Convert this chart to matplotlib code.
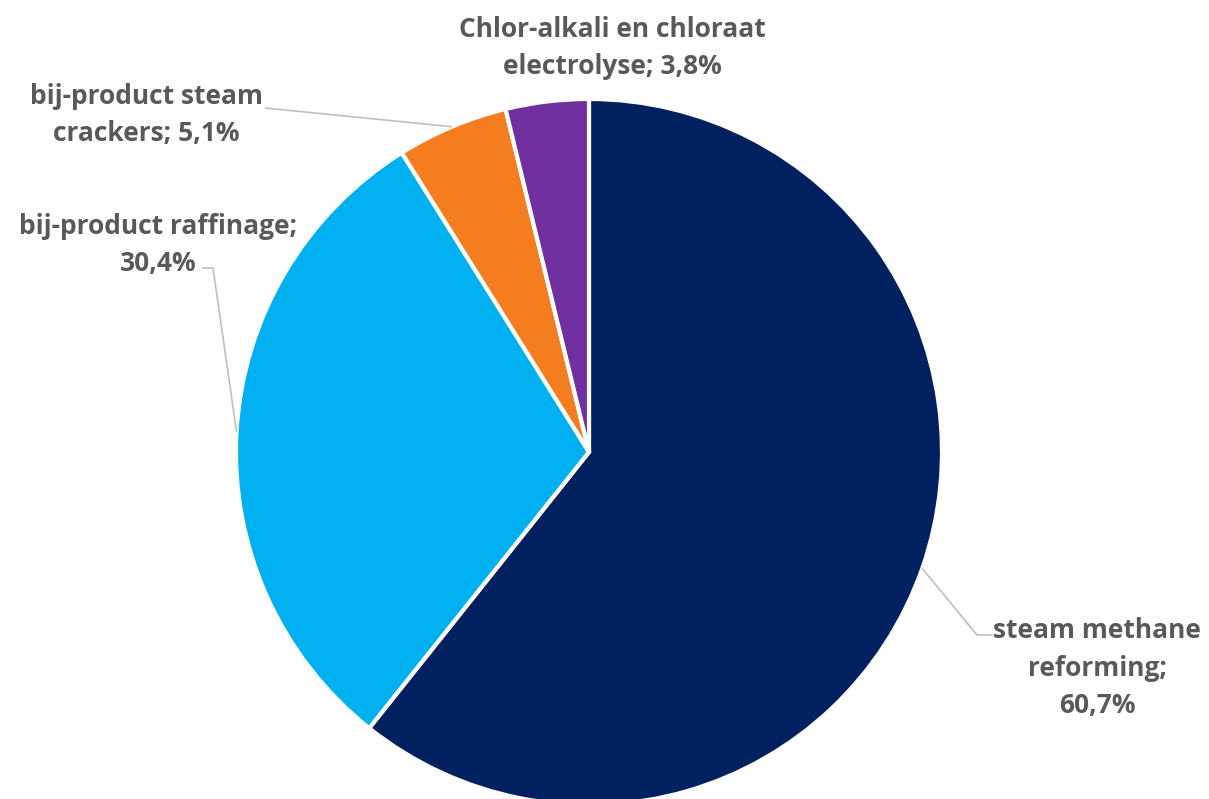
import numpy as np
import matplotlib
matplotlib.use('Agg')
import matplotlib.pyplot as plt

# data
labels = ['steam methane\nreforming;\n60,7%',
          'bij-product raffinage;\n30,4%',
          'bij-product steam\ncrackers; 5,1%',
          'Chlor-alkali en chloraat\nelectrolyse; 3,8%']
shares = [60.7, 30.4, 5.1, 3.8]
colors = ['#002060', '#00B0F0', '#F47D20', '#7030A0']

W, H = 1209, 799
fig = plt.figure(figsize=(W / 100, H / 100), dpi=100)
ax = fig.add_axes([0, 0, 1, 1])

cx, cy, r = 589, H - 452, 353
ax.pie(shares, colors=colors, startangle=90, counterclock=False,
       center=(cx, cy), radius=r, frame=True,
       wedgeprops=dict(edgecolor='white', linewidth=3))
ax.set_xlim(0, W)
ax.set_ylim(0, H)
ax.axis('off')

# mid angles of each slice (degrees)
total = sum(shares)
ends = 90 - 360 * np.cumsum(shares) / total
starts = np.concatenate([[90], ends[:-1]])
mids = (starts + ends) / 2

txt = dict(fontsize=19, fontweight='bold', color='#595959',
           family=['Open Sans', 'DejaVu Sans'], ha='center', va='center',
           linespacing=1.52)

# label centres (layout) and leader bends
label_pos = [(1097, H - 668), (146, H - 115), (146, H - 115), (612, H - 48)]
label_pos[1] = (158, H - 245)
leaders = [[(993, H - 635), (977, H - 635)],
           [(202, H - 268), (213, H - 268)],
           [(265, H - 108)],
           None]

for i, lab in enumerate(labels):
    ax.text(*label_pos[i], lab, **txt)
    if leaders[i] is not None:
        a = np.radians(mids[i])
        edge = (cx + r * np.cos(a), cy + r * np.sin(a))
        pts = leaders[i] + [edge]
        ax.plot([p[0] for p in pts], [p[1] for p in pts],
                color='#BFBFBF', linewidth=1.2, solid_capstyle='butt')

fig.savefig('out.png', dpi=100, facecolor='white')
